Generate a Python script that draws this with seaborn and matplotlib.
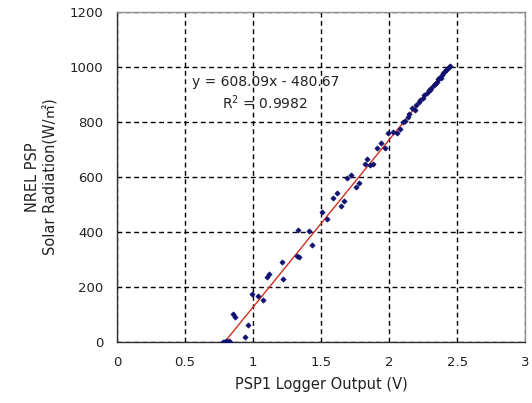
import numpy as np
import pandas as pd
from matplotlib import pyplot as plt
import seaborn as sns

# data
psp1_v = [0.78, 0.79, 0.80, 0.81, 0.82, 0.83, 0.85, 0.87, 0.94, 0.96, 0.99, 1.04, 1.07,
          1.10, 1.12, 1.21, 1.22, 1.32, 1.34, 1.33, 1.41, 1.43, 1.51, 1.54, 1.59, 1.62,
          1.65, 1.67, 1.69, 1.72, 1.76, 1.78, 1.82, 1.84, 1.86, 1.88, 1.91, 1.94, 1.97,
          1.99, 2.03, 2.06, 2.08, 2.10, 2.12, 2.14, 2.15, 2.17, 2.19, 2.20, 2.22, 2.23,
          2.25, 2.26, 2.28, 2.29, 2.30, 2.31, 2.33, 2.34, 2.35, 2.36, 2.37, 2.38, 2.39,
          2.40, 2.41, 2.42, 2.43, 2.44, 2.45]
nrel_w = [2, 0, 3, 1, 4, 0, 102, 91, 18, 62, 175, 167, 153,
          236, 247, 291, 229, 313, 309, 407, 404, 353, 473, 447, 524, 542,
          495, 513, 596, 607, 564, 578, 647, 665, 644, 647, 705, 724, 705,
          760, 764, 760, 775, 800, 805, 820, 830, 850, 845, 862, 872, 880,
          888, 900, 905, 915, 918, 925, 935, 940, 945, 955, 960, 962, 972,
          978, 985, 990, 995, 1000, 1005]
fit_slope = 608.09
fit_icpt = -480.67
fit_r2 = 0.9982

df = pd.DataFrame({'x': psp1_v, 'y': nrel_w})
xs = np.array([-fit_icpt / fit_slope, max(psp1_v)])
fit = pd.DataFrame({'x': xs, 'y': fit_slope * xs + fit_icpt})

sns.set_style('white')
plt.rcParams['font.family'] = ['DejaVu Sans', 'Noto Sans CJK KR']

fig = plt.figure(figsize=(5.32, 4.03), dpi=100)
ax = fig.add_axes([0.22, 0.151, 0.767, 0.819])

sns.lineplot(data=fit, x='x', y='y', color='#d03020', lw=1, ax=ax)
sns.scatterplot(data=df, x='x', y='y', marker='D', s=7, color='#101070',
                edgecolor='#101070', linewidth=0.5, ax=ax, zorder=3)

ax.set_xlim(0, 3)
ax.set_ylim(0, 1200)
ax.set_xticks(np.arange(0, 3.01, 0.5))
ax.set_xticklabels(['0', '0.5', '1', '1.5', '2', '2.5', '3'])
ax.set_yticks(range(0, 1201, 200))
ax.grid(True, color='black', linestyle=(0, (3.5, 2.5)), linewidth=1)
for s in ax.spines.values():
    s.set_color('#303030')
    s.set_linewidth(1)
ax.spines['top'].set_color('#909090')
ax.spines['right'].set_color('#909090')
ax.tick_params(labelsize=9.5, length=0, pad=10, labelcolor='#222222')

ax.set_xlabel('PSP1 Logger Output (V)', fontsize=10.5, labelpad=6, color='#222222')
ax.set_ylabel('NREL PSP\nSolar Radiation(W/㎡)', fontsize=10.5, labelpad=8, color='#222222')

ax.text(1.09, 945, 'y = 608.09x - 480.67', ha='center', va='center', fontsize=10, color='#222222')
ax.text(1.09, 869, 'R$^2$ = 0.9982', ha='center', va='center', fontsize=10, color='#222222')

plt.savefig('out.png', dpi=100)
